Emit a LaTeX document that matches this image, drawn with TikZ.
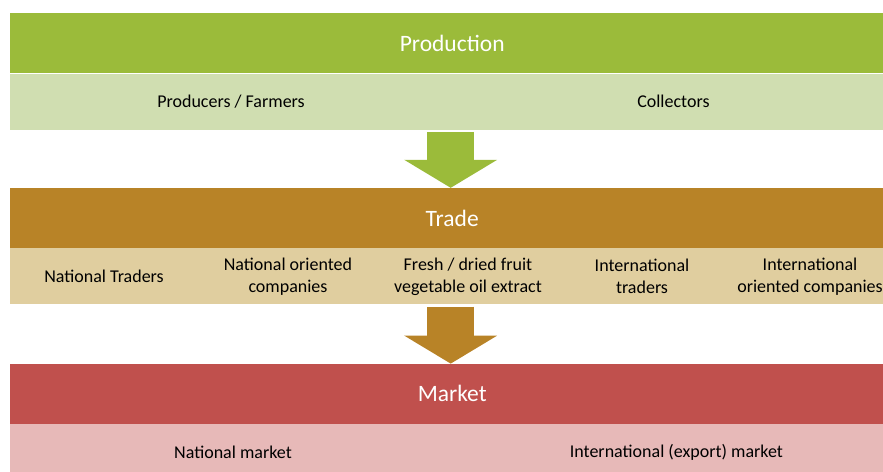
\documentclass[tikz,border=0pt]{standalone}
\usepackage{fontspec}
\setmainfont{Carlito}
\usetikzlibrary{positioning, arrows.meta}

\definecolor{prodgreen}{HTML}{9BBB3A}
\definecolor{prodlight}{HTML}{D0DEB1}
\definecolor{tradebrown}{HTML}{B88327}
\definecolor{tradelight}{HTML}{E0CE9F}
\definecolor{marketred}{HTML}{C0504D}
\definecolor{marketlight}{HTML}{E7B9B8}

\begin{document}
\begin{tikzpicture}[x=1pt,y=1pt,
    header/.style={fill=#1, text=white, minimum width=884pt, minimum height=60pt,
      inner sep=0pt, anchor=north west, font=\fontsize{23.5}{27}\selectfont},
    band/.style={fill=#1, minimum width=884pt, minimum height=56pt, inner sep=0pt},
    cell/.style={align=center, inner sep=0pt, font=\fontsize{18}{22}\selectfont},
    flow/.style={draw=#1, line width=47pt, shorten <=2pt,
      -{Triangle[width=93pt,length=28pt,line width=0pt]}}]
  \useasboundingbox (0,0) rectangle (883,-471);

  % production
  \node[header=prodgreen] (prod) at (10,-13) {Production};
  \node[band=prodlight, below=0pt of prod] (prodrow) {};
  \node[cell] (farmers) at ([xshift=221pt]prodrow.west) {Producers / Farmers};
  \node[cell] (collect) at ([xshift=-221pt]prodrow.east) {Collectors};

  % trade
  \node[header=tradebrown, below=58pt of prodrow] (trade) {Trade};
  \node[band=tradelight, below=0pt of trade] (traderow) {};
  \node[cell] (ntraders) at ([xshift=94pt]traderow.west) {National Traders};
  \node[cell] (ncomp) at ([xshift=278pt]traderow.west) {National oriented\\companies};
  \node[cell] (extract) at ([xshift=458pt]traderow.west) {Fresh / dried fruit\\vegetable oil extract};
  \node[cell] (itraders) at ([xshift=632pt]traderow.west) {International\\traders};
  \node[cell] (icomp) at ([xshift=800pt]traderow.west) {International\\oriented companies};

  % market
  \node[header=marketred, below=59pt of traderow] (market) {Market};
  \node[band=marketlight, below=0pt of market] (marketrow) {};
  \node[cell] (nmarket) at ([xshift=223pt]marketrow.west) {National market};
  \node[cell] (imarket) at ([xshift=-218pt]marketrow.east) {International (export) market};

  \draw[flow=prodgreen] ([xshift=-1.5pt]prodrow.south) -- ([xshift=-1.5pt]trade.north);
  \draw[flow=tradebrown] ([xshift=-1.5pt]traderow.south) -- ([xshift=-1.5pt]market.north);
\end{tikzpicture}
\end{document}
